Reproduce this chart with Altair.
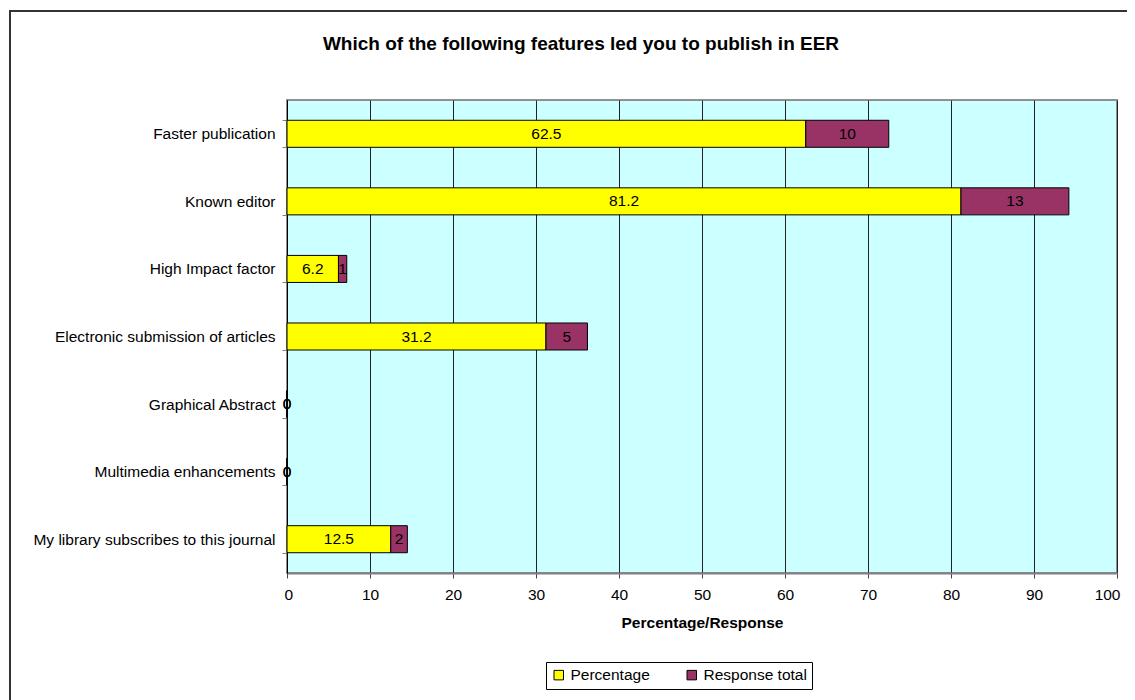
import altair as alt
import pandas as pd

features = [
    "Faster publication",
    "Known editor",
    "High Impact factor",
    "Electronic submission of articles",
    "Graphical Abstract",
    "Multimedia enhancements",
    "My library subscribes to this journal",
]
percentage = [62.5, 81.2, 6.2, 31.2, 0, 0, 12.5]
response_total = [10, 13, 1, 5, 0, 0, 2]
series_names = ["Percentage", "Response total"]
series_colors = ["#FFFF00", "#993366"]
x_ticks = list(range(0, 101, 10))
title_text = "Which of the following features led you to publish in EER"

rows = []
for f, p, r in zip(features, percentage, response_total):
    rows.append({"feature": f, "series": series_names[0], "value": p, "ord": 0,
                 "label": f"{p:g}"})
    rows.append({"feature": f, "series": series_names[1], "value": r, "ord": 1,
                 "label": f"{r:g}"})
df = pd.DataFrame(rows)

FONT = "Liberation Sans"
FS = 15.5

base = alt.Chart(df).transform_stack(
    stack="value", groupby=["feature"], as_=["x0", "x1"],
    sort=[alt.SortField("ord", order="ascending")]
).transform_calculate(mid="(datum.x0 + datum.x1) / 2")

yenc = alt.Y("feature:N", sort=features,
             scale=alt.Scale(paddingInner=0.6, paddingOuter=0.3),
             axis=alt.Axis(title=None, tickBand="extent", domainColor="#000000",
                           tickColor="#808080", tickSize=5, labelPadding=7,
                           labelFontSize=FS, labelFont=FONT, labelColor="#000000",
                           labelLimit=400))

bars = base.mark_bar(stroke="#000000", strokeWidth=1).encode(
    x=alt.X("x0:Q", scale=alt.Scale(domain=[0, 100], nice=False),
            axis=alt.Axis(values=x_ticks, title="Percentage/Response",
                          grid=True, gridColor="#222222", gridWidth=1,
                          domainColor="#808080", domainWidth=2,
                          tickColor="#444444", tickSize=5, labelPadding=9,
                          labelFlush=True, labelFlushOffset=3,
                          labelFontSize=FS, labelFont=FONT, labelColor="#000000",
                          titleFont=FONT, titleFontSize=FS, titleFontWeight="bold",
                          titleColor="#000000", titlePadding=13)),
    x2="x1:Q",
    y=yenc,
    color=alt.Color("series:N", sort=series_names,
                    scale=alt.Scale(domain=series_names, range=series_colors),
                    legend=alt.Legend(title=None, orient="none", direction="horizontal",
                                      legendX=259, legendY=562,
                                      symbolType="square", symbolSize=90,
                                      symbolStrokeColor="#000000", symbolStrokeWidth=1,
                                      labelFont=FONT, labelFontSize=FS,
                                      labelColor="#000000", columnPadding=34,
                                      strokeColor="#000000", padding=5,
                                      labelOffset=4)),
)

labels = base.mark_text(font=FONT, fontSize=FS, color="#000000").encode(
    x="mid:Q",
    y=alt.Y("feature:N", sort=features),
    text="label:N",
)

frame = alt.Chart(alt.Data(values=[{"a": 1}])).mark_rect(
    fill=None, stroke="#333333", strokeWidth=2
).encode(
    x=alt.value(-277), x2=alt.value(900), y=alt.value(-89), y2=alt.value(800)
)

title = alt.Chart(alt.Data(values=[{"t": title_text}])).mark_text(
    font=FONT, fontSize=19, fontWeight="bold", color="#000000",
    align="center", baseline="alphabetic"
).encode(x=alt.value(294), y=alt.value(-50), text="t:N")

chart = alt.layer(bars, labels, frame, title).properties(
    width=830, height=473,
    padding={"left": 279, "top": 92, "right": 10, "bottom": 127},
    autosize=alt.AutoSizeParams(type="none"),
    background="#FFFFFF",
).configure_view(
    fill="#CCFFFF", stroke="#909090", strokeWidth=2
)

chart.save("out.html", embed_options={"renderer": "svg", "actions": False})
